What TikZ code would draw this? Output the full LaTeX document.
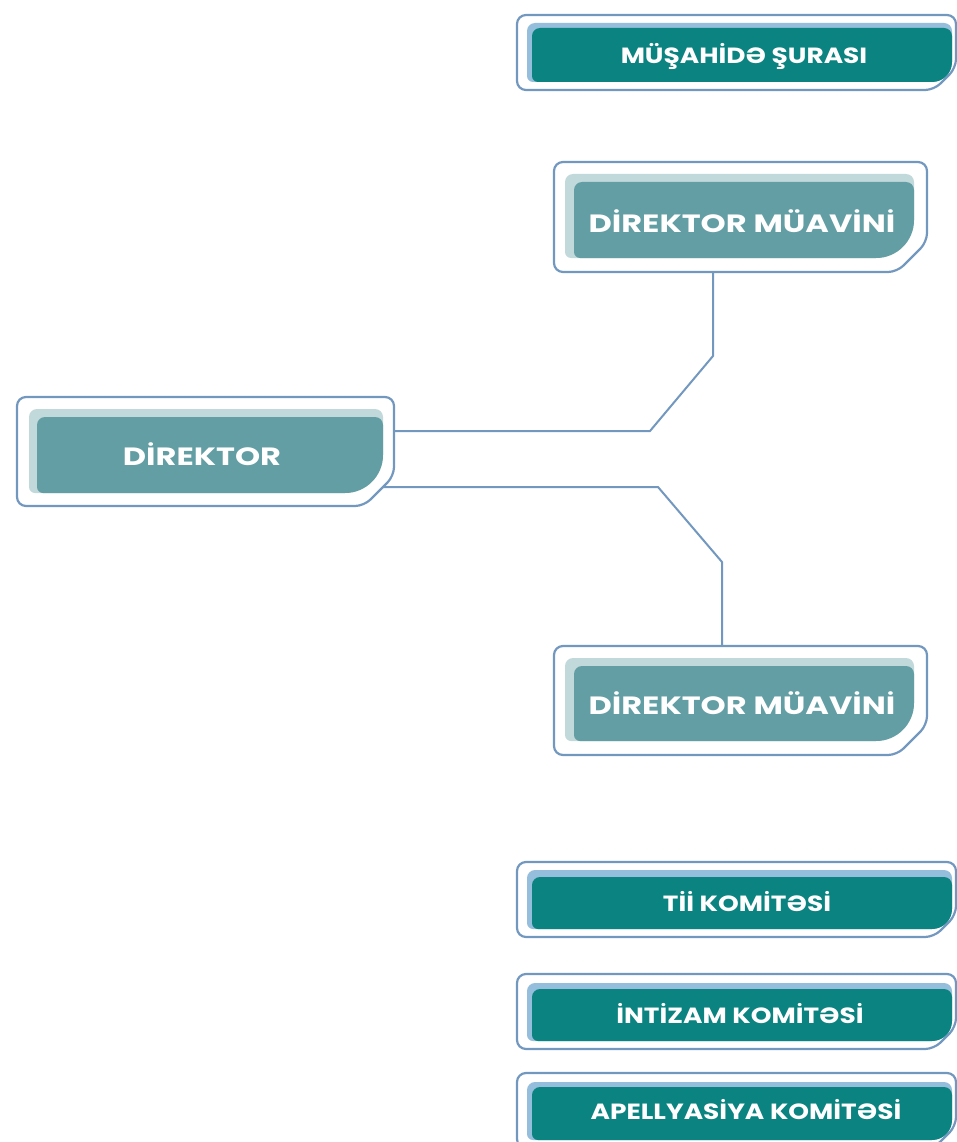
\documentclass[tikz,border=0pt]{standalone}
\usepackage{fontspec}
\setmainfont{Poppins}
\newfontfamily\comfont{Poppins}[FakeStretch=1.2]
\newfontfamily\dmfont{Poppins}[FakeStretch=1.28]
\usetikzlibrary{backgrounds,calc}
\definecolor{bord}{HTML}{7398C0}
\definecolor{teal}{HTML}{0B8380}
\definecolor{dmteal}{HTML}{629EA4}
\definecolor{dmlight}{HTML}{C1D9DA}
\definecolor{comlight}{HTML}{95BDDC}
\tikzset{
  outerb/.style={draw=bord, line width=2.2pt, fill=white, rounded corners=9pt},
  link/.style={draw=bord, line width=2pt},
  comlbl/.style={text=white, inner sep=0pt, font=\comfont\bfseries\fontsize{22}{22}\selectfont},
  dmlbl/.style={text=white, inner sep=0pt, font=\dmfont\bfseries\fontsize{25}{25}\selectfont},
  anchorbox/.style={inner sep=0pt, draw=none}
}
% #1 x1, #2 y1, #3 x2, #4 y2, #5 big radius, #6 colour
\newcommand\tabfill[6]{%
  \fill[#6] ({#1+6},#4) .. controls ({#1+2.7},#4) and (#1,{#4-2.7}) .. (#1,{#4-6})
    -- (#1,{#2+8}) .. controls (#1,{#2+3.6}) and ({#1+3.6},#2) .. ({#1+8},#2)
    -- ({#3-8},#2) .. controls ({#3-3.6},#2) and (#3,{#2+3.6}) .. (#3,{#2+8})
    -- (#3,{#4-#5}) .. controls (#3,{#4-0.448*#5}) and ({#3-0.448*#5},#4) .. ({#3-#5},#4)
    -- cycle;}
% #1 name, #2 x1, #3 y1, #4 x2, #5 y2, #6 chamfer
\newcommand\outerbox[6]{%
  \draw[outerb] (#2,#3) -- (#4,#3) -- (#4,{#5-#6}) -- ({#4-#6},#5) -- (#2,#5) -- cycle;
  \node[anchorbox, minimum width={(#4-#2)*1pt}, minimum height={(#5-#3)*1pt}] (#1) at ({(#2+#4)/2},{(#3+#5)/2}) {};}
\begin{document}
\begin{tikzpicture}[x=1pt,y=-1pt]
\useasboundingbox (0,0) rectangle (957,1142);
\clip (0,0) rectangle (957,1142);

% MÜŞAHİDƏ ŞURASI
\outerbox{ms}{517}{15}{956}{90}{22}
\tabfill{527}{23}{952}{82}{20}{comlight}
\tabfill{532}{28}{952}{82}{20}{teal}
\node[comlbl] (mst) at (744,56) {MÜŞAHİDƏ ŞURASI};

% DİREKTOR MÜAVİNİ (upper)
\outerbox{dma}{554}{162}{927}{272}{30}
\tabfill{565}{174}{914}{258}{38}{dmlight}
\tabfill{574}{182}{914}{258}{38}{dmteal}
\node[dmlbl] (dmat) at (742,221) {DİREKTOR MÜAVİNİ};

% DİREKTOR
\outerbox{dir}{17}{397}{394}{506}{30}
\tabfill{29}{409}{383}{493}{38}{dmlight}
\tabfill{37}{417}{383}{493}{38}{dmteal}
\node[dmlbl] (dirt) at (202,454) {DİREKTOR};

% DİREKTOR MÜAVİNİ (lower)
\outerbox{dmb}{554}{646}{927}{755}{30}
\tabfill{565}{658}{914}{741}{38}{dmlight}
\tabfill{574}{666}{914}{741}{38}{dmteal}
\node[dmlbl] (dmbt) at (742,703) {DİREKTOR MÜAVİNİ};

% Tİİ KOMİTƏSİ
\outerbox{tk}{517}{862}{956}{937}{22}
\tabfill{527}{870}{952}{929}{20}{comlight}
\tabfill{532}{877}{952}{929}{20}{teal}
\node[comlbl] (tkt) at (747,902) {Tİİ KOMİTƏSİ};

% İNTİZAM KOMİTƏSİ
\outerbox{ik}{517}{974}{956}{1049}{22}
\tabfill{527}{983}{952}{1041}{20}{comlight}
\tabfill{532}{989}{952}{1041}{20}{teal}
\node[comlbl] (ikt) at (740,1014) {İNTİZAM KOMİTƏSİ};

% APELLYASİYA KOMİTƏSİ
\outerbox{ak}{517}{1073}{956}{1148}{22}
\tabfill{527}{1082}{952}{1140}{20}{comlight}
\tabfill{532}{1087}{952}{1140}{20}{teal}
\node[comlbl] (akt) at (746,1110) {APELLYASİYA KOMİTƏSİ};

% connectors
\coordinate (a1) at (650,431);
\coordinate (a2) at (713,356);
\coordinate (b1) at (658,487);
\coordinate (b2) at (722,562);
\begin{pgfonlayer}{background}
\draw[link] (dir |- a1) -- (a1) -- (a2) -- (a2 |- dma);
\draw[link] (dir |- b1) -- (b1) -- (b2) -- (b2 |- dmb);
\end{pgfonlayer}
\end{tikzpicture}
\end{document}
